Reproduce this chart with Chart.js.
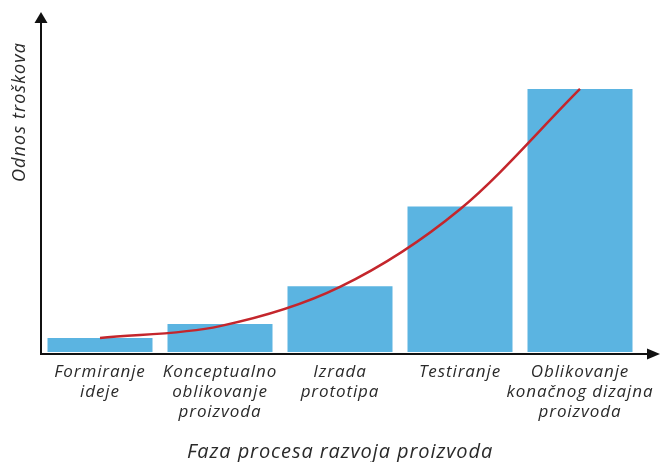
<!DOCTYPE html>
<html>
<head>
<meta charset="utf-8">
<script src="https://cdn.jsdelivr.net/npm/chart.js@4.4.1/dist/chart.umd.min.js"></script>
<style>
    html, body { margin: 0; padding: 0; background: #fff; }
    #wrap { width: 668px; height: 462px; position: relative; }
</style>
</head>
<body>
<div id="wrap"><canvas id="costChart"></canvas></div>
<script>
// faze razvoja (oznake na x osi)
const categories = [
    ['Formiranje', 'ideje'],
    ['Konceptualno', 'oblikovanje', 'proizvoda'],
    ['Izrada', 'prototipa'],
    ['Testiranje'],
    ['Oblikovanje', 'konačnog dizajna', 'proizvoda']
];
// relativni troskovi po fazi (stubici)
const costRatio = [1.0, 2.0, 4.7, 10.4, 18.8];
// trend krivulja (crvena linija)
const trendValues = [1.0, 1.85, 4.65, 10.2, 18.8];

const yTitle = 'Odnos troškova';
const xTitle = 'Faza procesa razvoja proizvoda';

const FONT = "'Open Sans', sans-serif";
const SPACING = '0.9px';

// razmak izmedju slova, tekst u originalu je siri
const letterSpacing = {
    id: 'letterSpacing',
    beforeUpdate(chart) { chart.ctx.letterSpacing = SPACING; },
    beforeDraw(chart) { chart.ctx.letterSpacing = SPACING; }
};

const arrowAxes = {
    id: 'arrowAxes',
    afterDraw(chart) {
        const { ctx, chartArea } = chart;
        const x0 = chartArea.left + 1;
        const y0 = chartArea.bottom + 2;
        ctx.save();
        ctx.strokeStyle = '#111';
        ctx.fillStyle = '#111';
        ctx.lineWidth = 2;
        // y osa
        ctx.beginPath();
        ctx.moveTo(x0, y0 + 1);
        ctx.lineTo(x0, chartArea.top + 8);
        ctx.stroke();
        ctx.beginPath();
        ctx.moveTo(x0, chartArea.top);
        ctx.lineTo(x0 - 6.5, chartArea.top + 11);
        ctx.lineTo(x0 + 6.5, chartArea.top + 11);
        ctx.closePath();
        ctx.fill();
        // x osa
        const xEnd = 660;
        ctx.beginPath();
        ctx.moveTo(x0 - 1, y0);
        ctx.lineTo(xEnd - 8, y0);
        ctx.stroke();
        ctx.beginPath();
        ctx.moveTo(xEnd, y0);
        ctx.lineTo(xEnd - 13, y0 - 5.5);
        ctx.lineTo(xEnd - 13, y0 + 5.5);
        ctx.closePath();
        ctx.fill();
        // naslov y ose
        ctx.letterSpacing = '1.1px';
        ctx.translate(20, 112);
        ctx.rotate(-Math.PI / 2);
        ctx.font = 'italic 18px ' + FONT;
        ctx.fillStyle = '#2a2a2a';
        ctx.textAlign = 'center';
        ctx.textBaseline = 'middle';
        ctx.fillText(yTitle, 0, 0);
        ctx.restore();
    }
};

new Chart(document.getElementById('costChart'), {
    data: {
        labels: categories,
        datasets: [
            {
                type: 'line',
                data: trendValues,
                borderColor: '#c4262c',
                borderWidth: 2.5,
                pointRadius: 0,
                cubicInterpolationMode: 'monotone',
                fill: false,
                order: 0
            },
            {
                type: 'bar',
                data: costRatio,
                backgroundColor: '#5bb4e1',
                barPercentage: 0.875,
                categoryPercentage: 1.0,
                order: 1
            }
        ]
    },
    options: {
        responsive: true,
        maintainAspectRatio: false,
        animation: false,
        layout: { padding: { left: 40, right: 28, top: 12, bottom: 0 } },
        plugins: {
            legend: { display: false },
            tooltip: { enabled: false }
        },
        scales: {
            x: {
                grid: { display: false, drawTicks: false },
                border: { display: false },
                afterFit(scale) { scale.height = 110; },
                ticks: {
                    maxRotation: 0,
                    autoSkip: false,
                    padding: 10,
                    color: '#2a2a2a',
                    font: { family: FONT, size: 17, style: 'italic', lineHeight: 1.18 }
                },
                title: {
                    display: true,
                    text: xTitle,
                    color: '#2a2a2a',
                    padding: { top: 10, bottom: 0 },
                    font: { family: FONT, size: 20, style: 'italic', lineHeight: 1.0 }
                }
            },
            y: {
                display: false,
                min: 0,
                max: 24.3
            }
        }
    },
    plugins: [letterSpacing, arrowAxes]
});
</script>
</body>
</html>
